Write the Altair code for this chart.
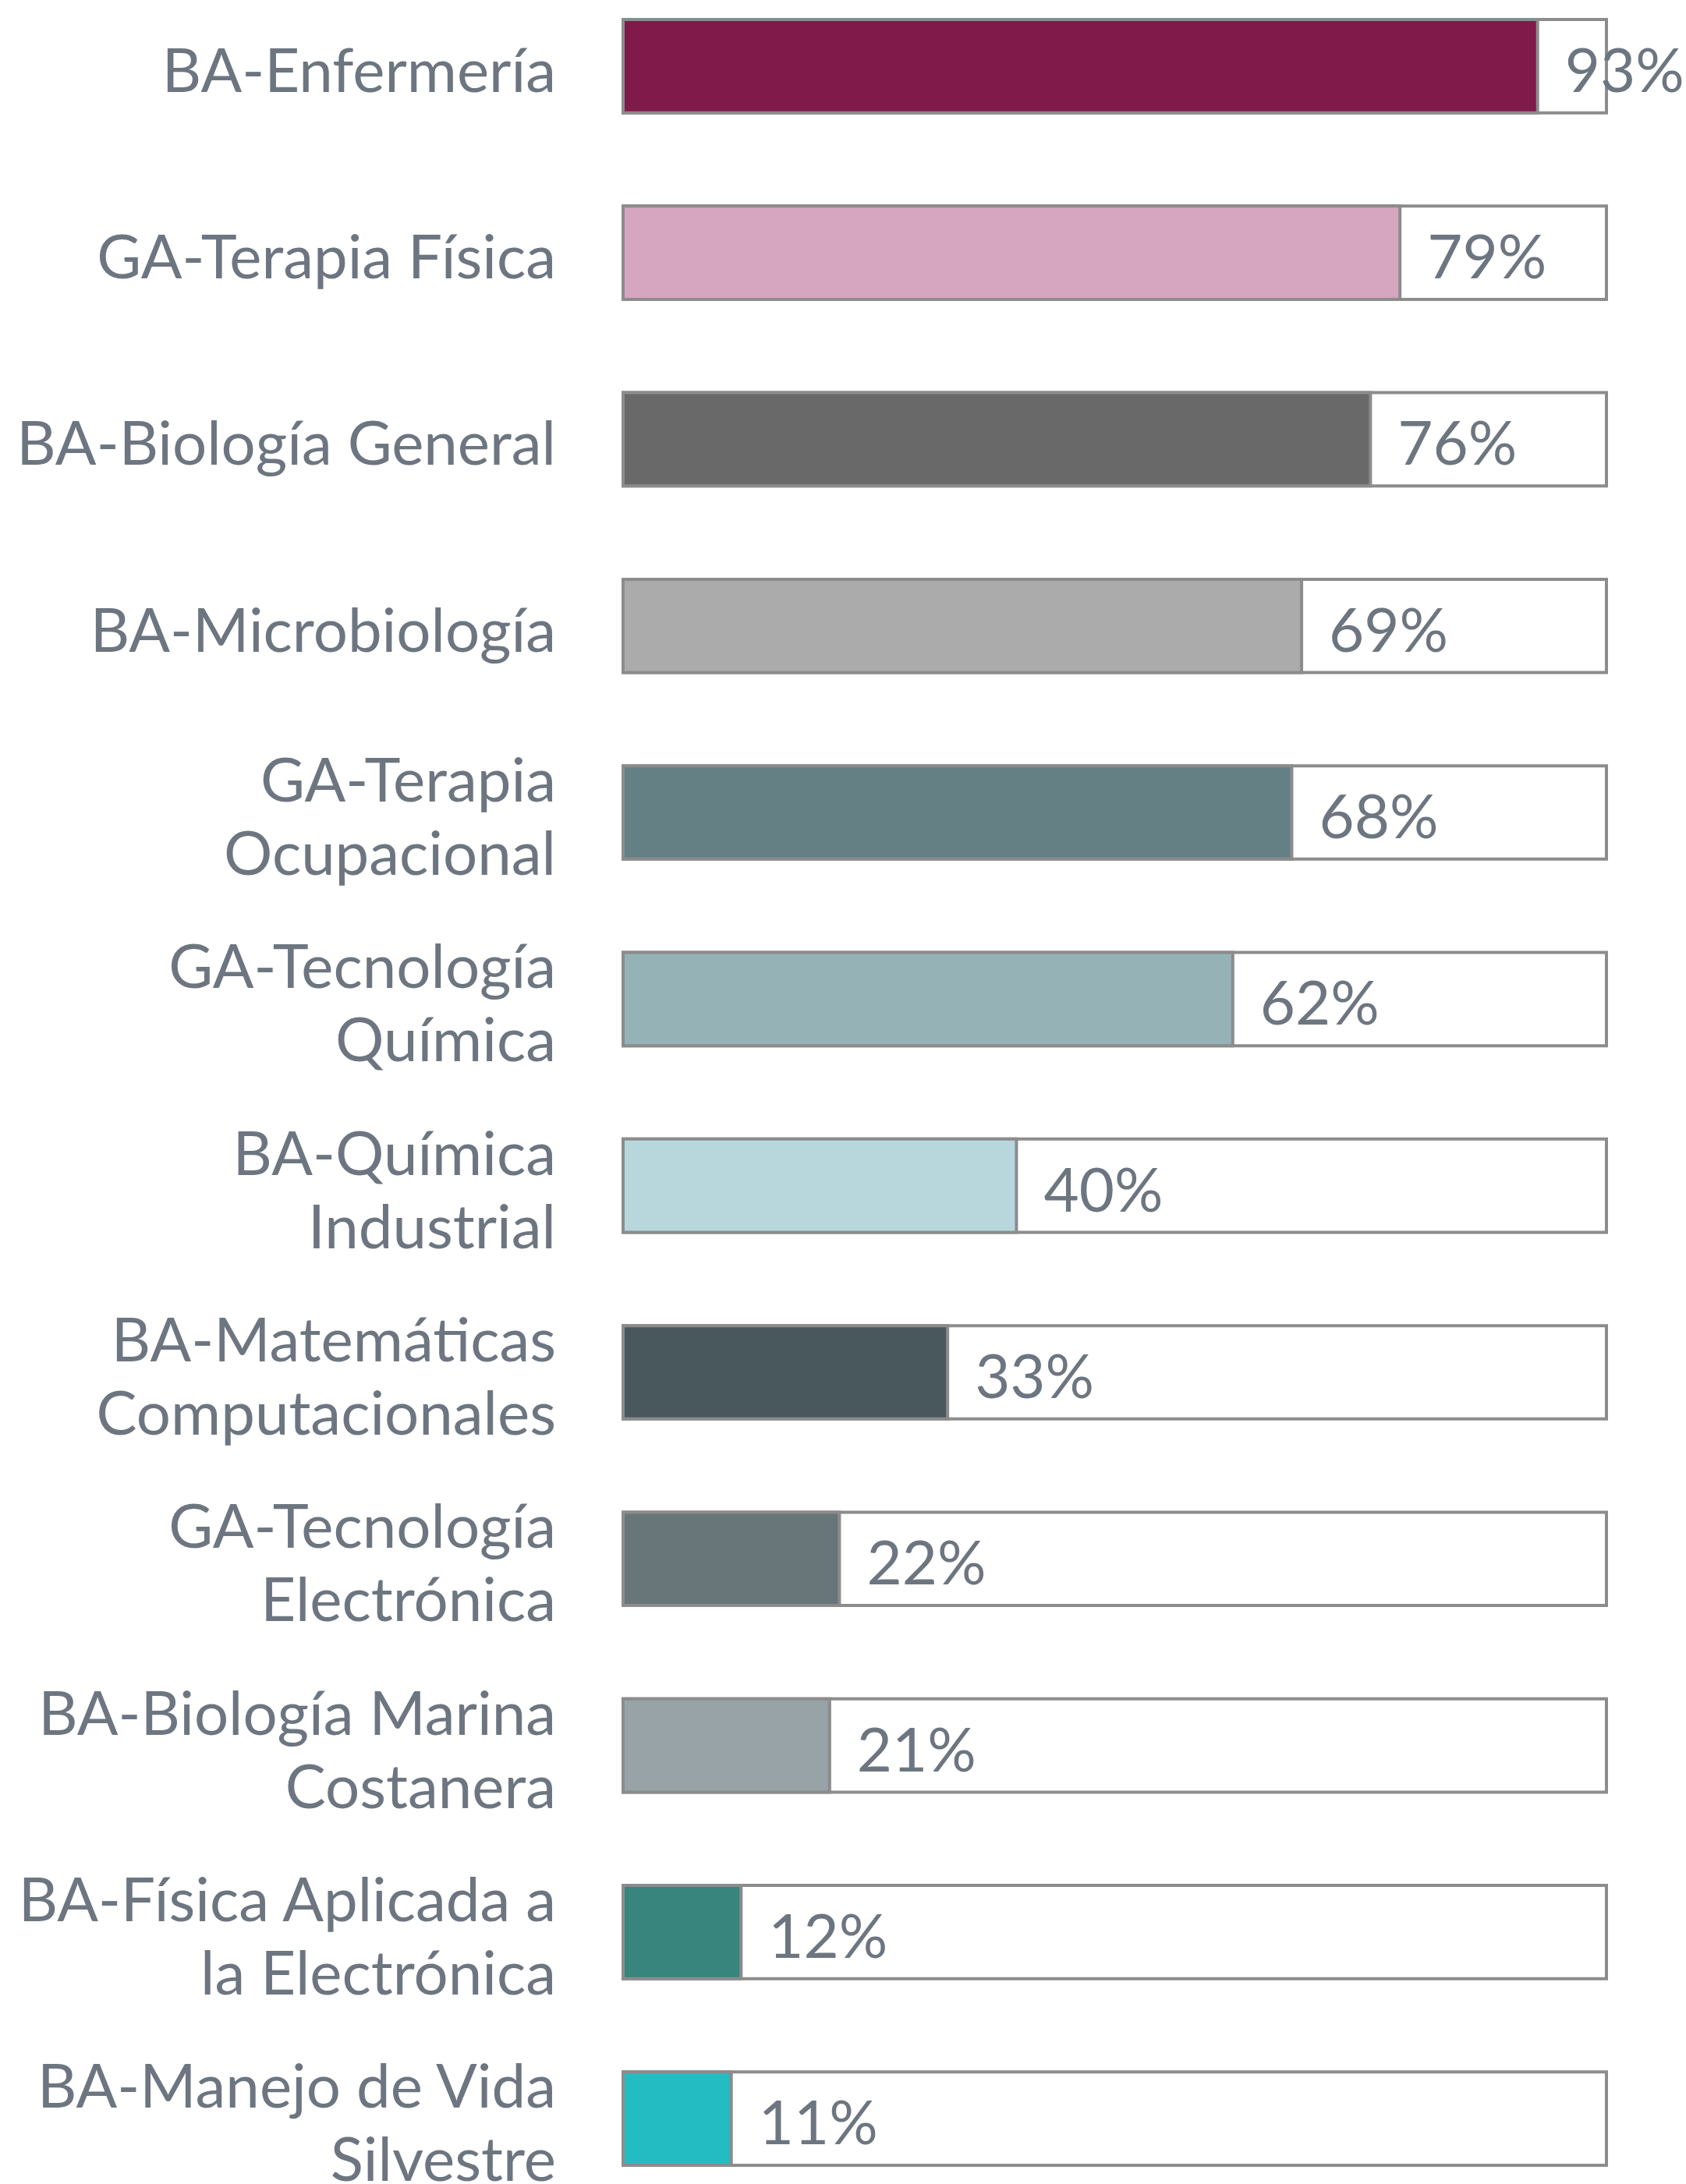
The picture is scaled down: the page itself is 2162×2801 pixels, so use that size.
import altair as alt
import pandas as pd

labels = [
    "BA-Enfermería",
    "GA-Terapia Física",
    "BA-Biología General",
    "BA-Microbiología",
    "GA-Terapia|Ocupacional",
    "GA-Tecnología|Química",
    "BA-Química|Industrial",
    "BA-Matemáticas|Computacionales",
    "GA-Tecnología|Electrónica",
    "BA-Biología Marina|Costanera",
    "BA-Física Aplicada a|la Electrónica",
    "BA-Manejo de Vida|Silvestre",
]
values = [93, 79, 76, 69, 68, 62, 40, 33, 22, 21, 12, 11]
colors = [
    "#7f1a4b", "#d6a5bf", "#696969", "#ababab", "#648085", "#95b2b7",
    "#b8d7dc", "#49585d", "#687679", "#97a3a6", "#37857c", "#24bcc3",
]

df = pd.DataFrame({
    "label": labels,
    "value": values,
    "color": colors,
    "full": [100] * len(labels),
    "text": [f"{v}%" for v in values],
})

TEXT_COLOR = "#6d7680"
STROKE = "#8c8c8c"
FS = 78
LH = 94

y = alt.Y(
    "label:N",
    sort=None,
    title=None,
    scale=alt.Scale(paddingInner=0.5, paddingOuter=0.1045),
    axis=None,
)
xscale = alt.Scale(domain=[0, 100], nice=False, zero=True)

base = alt.Chart(df)

bg = base.mark_bar(fill="white", stroke=STROKE, strokeWidth=4).encode(
    x=alt.X("full:Q", scale=xscale, axis=None),
    y=y,
)

bars = base.mark_bar(stroke=STROKE, strokeWidth=4).encode(
    x=alt.X("value:Q", scale=xscale, axis=None),
    y=y,
    fill=alt.Fill("color:N", scale=None),
)

txt = base.mark_text(
    align="left", baseline="middle", dx=35, dy=10,
    fontSize=FS, font="Lato", color=TEXT_COLOR,
).encode(
    x=alt.X("value:Q", scale=xscale, axis=None),
    y=y,
    text="text:N",
)

single = base.transform_filter("indexof(datum.label, '|') < 0").mark_text(
    align="right", baseline="middle", dy=10,
    fontSize=FS, font="Lato", color=TEXT_COLOR,
).encode(
    x=alt.value(-86),
    y=y,
    text="label:N",
)

multi = base.transform_filter("indexof(datum.label, '|') >= 0").mark_text(
    align="right", baseline="middle", dy=10 - LH / 2,
    fontSize=FS, font="Lato", color=TEXT_COLOR,
    lineBreak="|", lineHeight=LH,
).encode(
    x=alt.value(-86),
    y=y,
    text="label:N",
)

chart = (
    alt.layer(bg, bars, txt, single, multi)
    .properties(
        width=1261,
        height=2802,
        autosize=alt.AutoSizeParams(type="none"),
        padding={"left": 799, "top": 0, "right": 102, "bottom": 0},
        background="white",
    )
    .configure_view(stroke=None)
)

chart.save("out.html", embed_options={"renderer": "svg", "actions": False})
